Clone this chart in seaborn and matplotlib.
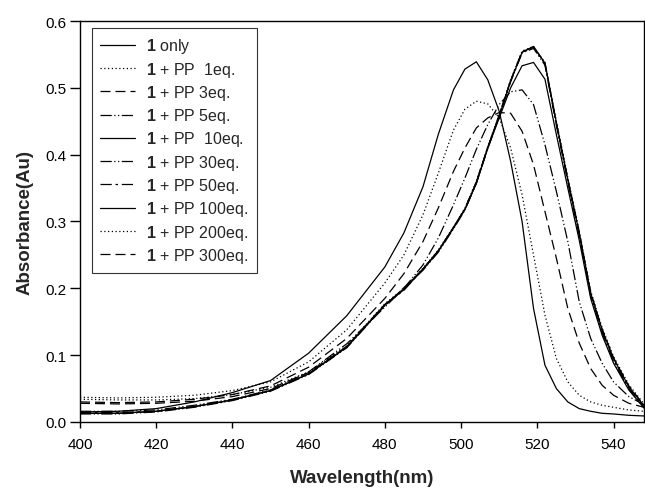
import numpy as np
import matplotlib
matplotlib.use("Agg")
import matplotlib.pyplot as plt
import pandas as pd
import seaborn as sns

# wavelength grid (nm)
wl = [400, 410, 420, 430, 440, 450, 460, 470, 480, 485, 490, 494, 498, 501, 504,
      507, 510, 513, 516, 519, 522, 525, 528, 531, 534, 537, 540, 544, 548]

# absorbance
only_1 = [0.015, 0.016, 0.020, 0.030, 0.044, 0.062, 0.103, 0.159, 0.232, 0.283, 0.352, 0.430, 0.497, 0.528, 0.539,
          0.512, 0.465, 0.390, 0.300, 0.170, 0.085, 0.050, 0.030, 0.020, 0.016, 0.013, 0.012, 0.010, 0.009]
pp_1 = [0.037, 0.036, 0.037, 0.040, 0.047, 0.060, 0.090, 0.138, 0.208, 0.250, 0.310, 0.372, 0.437, 0.468, 0.480,
        0.476, 0.455, 0.410, 0.340, 0.250, 0.160, 0.095, 0.060, 0.040, 0.030, 0.025, 0.022, 0.018, 0.016]
pp_3 = [0.030, 0.029, 0.030, 0.034, 0.041, 0.054, 0.082, 0.125, 0.185, 0.222, 0.270, 0.320, 0.375, 0.410, 0.440,
        0.455, 0.463, 0.462, 0.435, 0.385, 0.315, 0.245, 0.170, 0.118, 0.080, 0.055, 0.040, 0.028, 0.022]
pp_5 = [0.016, 0.016, 0.018, 0.025, 0.034, 0.048, 0.075, 0.117, 0.172, 0.200, 0.235, 0.275, 0.325, 0.365, 0.408,
        0.445, 0.475, 0.494, 0.497, 0.475, 0.415, 0.345, 0.270, 0.180, 0.125, 0.088, 0.060, 0.038, 0.026]
pp_10 = [0.013, 0.013, 0.016, 0.023, 0.033, 0.047, 0.072, 0.112, 0.175, 0.199, 0.229, 0.256, 0.291, 0.318, 0.357,
         0.410, 0.455, 0.500, 0.533, 0.538, 0.513, 0.430, 0.350, 0.272, 0.185, 0.130, 0.088, 0.048, 0.021]
pp_30 = [0.012, 0.012, 0.015, 0.022, 0.032, 0.046, 0.071, 0.111, 0.174, 0.201, 0.227, 0.254, 0.289, 0.317, 0.357,
         0.409, 0.457, 0.509, 0.552, 0.559, 0.534, 0.444, 0.359, 0.279, 0.189, 0.134, 0.091, 0.049, 0.021]
pp_50 = [0.014, 0.014, 0.016, 0.023, 0.033, 0.047, 0.072, 0.113, 0.176, 0.197, 0.229, 0.256, 0.291, 0.319, 0.359,
         0.411, 0.459, 0.511, 0.554, 0.561, 0.536, 0.446, 0.361, 0.281, 0.191, 0.136, 0.093, 0.051, 0.022]
pp_100 = [0.013, 0.013, 0.016, 0.023, 0.033, 0.047, 0.072, 0.112, 0.175, 0.198, 0.228, 0.255, 0.290, 0.318, 0.358,
          0.410, 0.458, 0.510, 0.553, 0.562, 0.537, 0.448, 0.363, 0.283, 0.193, 0.138, 0.095, 0.053, 0.024]
pp_200 = [0.034, 0.033, 0.033, 0.035, 0.041, 0.052, 0.075, 0.114, 0.177, 0.200, 0.230, 0.257, 0.292, 0.320, 0.360,
          0.412, 0.460, 0.512, 0.555, 0.562, 0.538, 0.450, 0.366, 0.286, 0.196, 0.141, 0.098, 0.056, 0.027]
pp_300 = [0.028, 0.027, 0.028, 0.031, 0.038, 0.050, 0.074, 0.113, 0.176, 0.199, 0.229, 0.256, 0.291, 0.319, 0.359,
          0.411, 0.459, 0.511, 0.554, 0.561, 0.537, 0.447, 0.364, 0.284, 0.194, 0.139, 0.096, 0.054, 0.025]

labels = [r"$\mathbf{1}$ only", r"$\mathbf{1}$ + PP  1eq.", r"$\mathbf{1}$ + PP 3eq.", r"$\mathbf{1}$ + PP 5eq.",
          r"$\mathbf{1}$ + PP  10eq.", r"$\mathbf{1}$ + PP 30eq.", r"$\mathbf{1}$ + PP 50eq.",
          r"$\mathbf{1}$ + PP 100eq.", r"$\mathbf{1}$ + PP 200eq.", r"$\mathbf{1}$ + PP 300eq."]
series = [only_1, pp_1, pp_3, pp_5, pp_10, pp_30, pp_50, pp_100, pp_200, pp_300]
styles = ["-", (0, (1, 2)), (0, (8, 4)), (0, (9, 2, 1, 2, 1, 2)), "-",
          (0, (9, 2, 1, 2, 1, 2)), (0, (9, 3, 2, 3)), "-", (0, (1, 2)), (0, (8, 4))]

sns.set_style("ticks")
plt.rcParams['font.family'] = ['Liberation Sans', 'DejaVu Sans']
plt.rcParams['mathtext.fontset'] = 'custom'
plt.rcParams['mathtext.bf'] = 'Liberation Sans:bold'
plt.rcParams['mathtext.rm'] = 'Liberation Sans'

fig = plt.figure(figsize=(6.45, 4.89), dpi=100)
ax = fig.add_axes([0.124, 0.135, 0.8745, 0.82])

for vals, lab, ls in zip(series, labels, styles):
    sns.lineplot(x=wl, y=vals, ax=ax, color="black", linewidth=0.9, linestyle=ls, label=lab)

ax.set_xlim(400, 548)
ax.set_ylim(0, 0.6)
ax.set_xticks(np.arange(400, 541, 20))
ax.set_yticks(np.arange(0, 0.61, 0.1))
ax.set_yticklabels([f"{v:.1f}" for v in np.arange(0, 0.61, 0.1)])
ax.tick_params(axis="x", direction="out", length=4.5, width=1, labelsize=11, pad=6, colors="black")
ax.tick_params(axis="y", direction="out", length=7, width=1, labelsize=11, pad=3, colors="black")
for s in ax.spines.values():
    s.set_color("black")
    s.set_linewidth(1)

ax.set_xlabel("Wavelength(nm)", fontsize=13.5, fontweight="bold", labelpad=13)
ax.set_ylabel("Absorbance(Au)", fontsize=13.5, fontweight="bold", labelpad=8)

leg = ax.legend(loc="upper left", bbox_to_anchor=(0.021, 0.982), borderaxespad=0, fontsize=11.5,
                frameon=True, fancybox=False, edgecolor="black", handlelength=2.2,
                labelspacing=0.27, borderpad=0.5, handletextpad=0.7)
leg.get_frame().set_linewidth(0.8)

fig.savefig("out.png", dpi=100)
